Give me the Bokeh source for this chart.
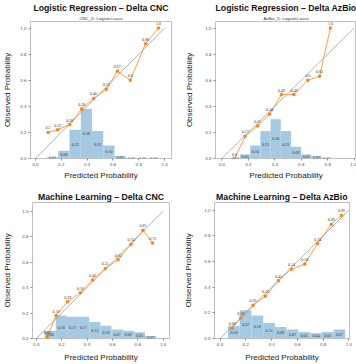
from bokeh.plotting import figure
from bokeh.layouts import column, row
from bokeh.models import Range1d, Title, ColumnDataSource, FixedTicker, PrintfTickFormatter
from bokeh.embed import file_html
from bokeh.resources import INLINE

# ---------------- data ----------------
# Panel 1: Logistic Regression - Delta CNC
lr_cnc_pred = [0.098, 0.173, 0.266, 0.358, 0.449, 0.549, 0.634, 0.734, 0.852, 0.952]
lr_cnc_obs = [0.20, 0.22, 0.26, 0.38, 0.46, 0.53, 0.67, 0.60, 0.88, 1.00]
lr_cnc_edges = [0.090, 0.177, 0.264, 0.351, 0.438, 0.525, 0.612, 0.699, 0.786, 0.873, 0.960]
lr_cnc_frac = [0.01, 0.06, 0.22, 0.38, 0.21, 0.10, 0.02, 0.00, 0.00, 0.00]

# Panel 2: Logistic Regression - Delta AzBio
lr_az_pred = [0.096, 0.176, 0.270, 0.360, 0.450, 0.544, 0.650, 0.738, 0.820]
lr_az_obs = [0.00, 0.17, 0.25, 0.34, 0.49, 0.49, 0.60, 0.63, 1.00]
lr_az_edges = [0.060, 0.137, 0.214, 0.291, 0.368, 0.445, 0.522, 0.599, 0.676, 0.753, 0.830]
lr_az_frac = [0.00, 0.03, 0.10, 0.21, 0.30, 0.21, 0.09, 0.03, 0.02, 0.00]

# Panel 3: Machine Learning - Delta CNC
ml_cnc_pred = [0.086, 0.156, 0.247, 0.348, 0.443, 0.544, 0.645, 0.746, 0.841, 0.917]
ml_cnc_obs = [0.01, 0.18, 0.29, 0.36, 0.46, 0.55, 0.62, 0.74, 0.85, 0.75]
ml_cnc_edges = [0.065, 0.153, 0.241, 0.329, 0.417, 0.505, 0.593, 0.681, 0.769, 0.857, 0.945]
ml_cnc_frac = [0.06, 0.18, 0.17, 0.17, 0.13, 0.10, 0.07, 0.06, 0.05, 0.02]

# Panel 4: Machine Learning - Delta AzBio
ml_az_pred = [0.094, 0.160, 0.256, 0.352, 0.453, 0.554, 0.658, 0.757, 0.863, 0.942]
ml_az_obs = [0.08, 0.16, 0.26, 0.33, 0.45, 0.54, 0.58, 0.74, 0.89, 0.96]
ml_az_edges = [0.062, 0.153, 0.244, 0.335, 0.426, 0.517, 0.608, 0.699, 0.790, 0.881, 0.972]
ml_az_frac = [0.10, 0.22, 0.18, 0.12, 0.09, 0.07, 0.05, 0.04, 0.05, 0.07]

diag = [0.0, 1.0]
ticks = [0.0, 0.2, 0.4, 0.6, 0.8, 1.0]

FONT = "Liberation Sans"
TICKFONT = "DejaVu Sans"


def make_panel(title, subtitle, pred, obs, edges, frac, xr, yr, borders,
               title_offset, ylab_standoff, xlab_standoff):
    bl, br, bt, bb = borders
    p = figure(width=178, height=182, x_range=Range1d(*xr), y_range=Range1d(*yr),
               output_backend="svg", toolbar_location=None,
               min_border_left=bl, min_border_right=br,
               min_border_top=bt, min_border_bottom=bb)
    p.grid.visible = False
    p.outline_line_color = "#c0c0c0"
    p.outline_line_width = 1
    p.background_fill_color = "white"
    p.border_fill_color = "white"

    if subtitle:
        p.add_layout(Title(text=subtitle, text_font_size="4.3px", text_font=FONT,
                           text_font_style="normal", align="center", text_color="#333333",
                           standoff=1, offset=title_offset), "above")
    p.add_layout(Title(text=title, text_font_size="8.7px", text_font=FONT,
                       text_font_style="bold", align="center", text_color="#111111",
                       standoff=1, offset=title_offset), "above")

    for ax in (p.xaxis, p.yaxis):
        ax.ticker = FixedTicker(ticks=ticks)
        ax.formatter = PrintfTickFormatter(format="%.1f")
        ax.axis_line_color = None
        ax.major_tick_line_color = "#888888"
        ax.major_tick_out = 2
        ax.major_tick_in = 0
        ax.minor_tick_line_color = None
        ax.major_label_text_font_size = "4px"
        ax.major_label_text_font = TICKFONT
        ax.major_label_text_color = "#555555"
        ax.major_label_standoff = 2
        ax.axis_label_text_font = FONT
        ax.axis_label_text_font_size = "8px"
        ax.axis_label_text_font_style = "normal"
        ax.axis_label_text_color = "#1a1a1a"
    p.xaxis.axis_label = "Predicted Probability"
    p.yaxis.axis_label = "Observed Probability"
    p.xaxis.axis_label_standoff = xlab_standoff
    p.yaxis.axis_label_standoff = ylab_standoff

    # histogram of predicted probabilities
    hist = ColumnDataSource(dict(
        left=edges[:-1], right=edges[1:], top=frac,
        mid=[(a + b) / 2 for a, b in zip(edges[:-1], edges[1:])],
        half=[f / 2 for f in frac],
        lab=[f"{f:.2f}" for f in frac]))
    p.quad(left="left", right="right", top="top", bottom=0, source=hist,
           fill_color="#a5c9e1", line_color=None)
    p.text(x="mid", y="half", text="lab", source=hist, text_font_size="4px",
           text_align="center", text_baseline="middle", text_color="#333333",
           text_font=TICKFONT)

    # perfect calibration line
    p.line(diag, diag, line_color="#a0a0a0", line_width=0.8)

    # calibration curve
    cal = ColumnDataSource(dict(x=pred, y=obs, lab=[f"{round(v, 2)}" for v in obs]))
    p.line(x="x", y="y", source=cal, line_color="#ff7f0e", line_width=1, line_alpha=0.75)
    p.scatter(x="x", y="y", source=cal, marker="square", size=2.5,
              fill_color="#ff7f0e", line_color="#ff7f0e", line_width=0.5)
    p.text(x="x", y="y", text="lab", source=cal, text_font_size="4px",
           text_align="center", text_baseline="bottom", y_offset=-3,
           text_color="#333333", text_font=TICKFONT)
    return p


p1 = make_panel("Logistic Regression \u2013 Delta CNC", "CNC_D: LogisticLasso",
                lr_cnc_pred, lr_cnc_obs, lr_cnc_edges, lr_cnc_frac,
                (-0.038, 1.053), (0, 1.05), (26, 7, 19, 24), -7, 5, 2)
p2 = make_panel("Logistic Regression \u2013 Delta AzBio", "AzBio_D: LogisticLasso",
                lr_az_pred, lr_az_obs, lr_az_edges, lr_az_frac,
                (-0.048, 1.017), (0, 1.05), (37, 0, 19, 24), -3, 8, 2)
p3 = make_panel("Machine Learning \u2013 Delta CNC", None,
                ml_cnc_pred, ml_cnc_obs, ml_cnc_edges, ml_cnc_frac,
                (-0.03, 1.05), (0, 1.068), (26, 9, 19, 22), -4, 7, 4)
p4 = make_panel("Machine Learning \u2013 Delta AzBio", None,
                ml_az_pred, ml_az_obs, ml_az_edges, ml_az_frac,
                (-0.043, 1.005), (0, 1.06), (36, 7, 20, 22), 3, 8, 4)

layout = column(row(p1, p2, spacing=0), row(p3, p4, spacing=0), spacing=0)
open("out.html", "w").write(file_html(layout, INLINE))
